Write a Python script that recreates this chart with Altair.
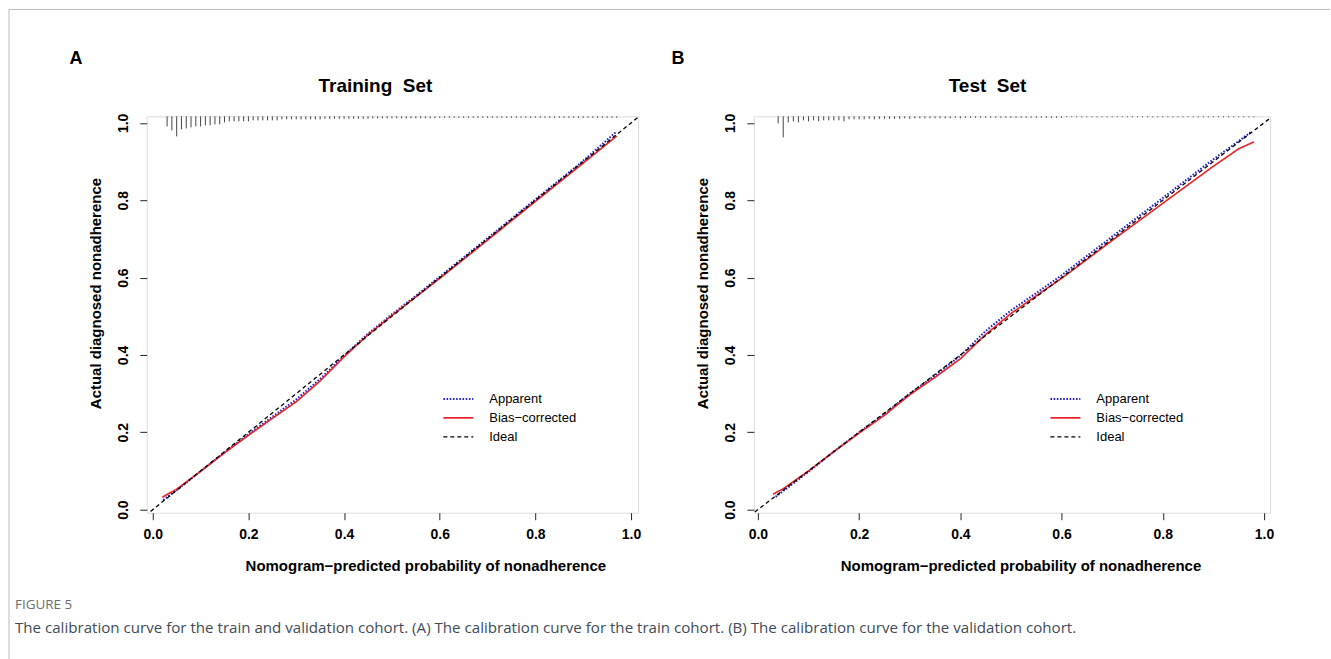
import altair as alt
import pandas as pd

# ---------------- data ----------------
series_names = ["Apparent", "Bias\u2212corrected", "Ideal"]
series_colors = ["#2222c8", "#e8262a", "#000000"]
series_dash = [[1.6, 1.6], [1, 0], [4, 3]]
series_width = [2.0, 1.3, 1.0]

# Panel A (Training Set)
A_app_x = [0.022, 0.05, 0.10, 0.15, 0.20, 0.25, 0.30, 0.35, 0.40, 0.45, 0.50, 0.55, 0.60, 0.70, 0.80, 0.90, 0.97]
A_app_y = [0.025, 0.050, 0.099, 0.148, 0.195, 0.240, 0.285, 0.338, 0.398, 0.455, 0.505, 0.553, 0.602, 0.702, 0.802, 0.902, 0.978]
A_bias_x = [0.02, 0.05, 0.10, 0.15, 0.20, 0.25, 0.30, 0.35, 0.40, 0.45, 0.50, 0.55, 0.60, 0.70, 0.80, 0.90, 0.97]
A_bias_y = [0.032, 0.053, 0.099, 0.147, 0.192, 0.236, 0.279, 0.333, 0.395, 0.452, 0.502, 0.550, 0.598, 0.697, 0.797, 0.896, 0.966]
A_rug_x = [0.03, 0.04, 0.05, 0.06, 0.07, 0.08, 0.09, 0.10, 0.11, 0.12, 0.13, 0.14, 0.15, 0.16, 0.17, 0.18,
           0.19, 0.20, 0.21, 0.22, 0.23, 0.24, 0.25, 0.26, 0.27, 0.28, 0.29, 0.30, 0.31, 0.32, 0.33, 0.34,
           0.35, 0.36, 0.37, 0.38, 0.39, 0.40, 0.41, 0.42, 0.43, 0.44, 0.45, 0.46, 0.47, 0.48, 0.49, 0.50,
           0.51, 0.52, 0.53, 0.54, 0.55, 0.56, 0.57, 0.58, 0.59, 0.60, 0.61, 0.62, 0.63, 0.64, 0.65, 0.66,
           0.67, 0.68, 0.69, 0.70, 0.71, 0.72, 0.73, 0.74, 0.75, 0.76, 0.77, 0.78, 0.79, 0.80, 0.81, 0.82,
           0.83, 0.84, 0.85, 0.86, 0.87, 0.88, 0.89, 0.90, 0.91, 0.92, 0.93, 0.94, 0.95, 0.96, 0.97]
A_rug_f = [10, 14, 20, 13, 12, 11, 10, 10, 9, 9, 8, 8, 6, 5, 5, 5,
           5, 5, 4, 4, 4, 4, 4, 4, 3, 3, 3, 3, 3, 3, 3, 3,
           3, 2.5, 2.5, 2.5, 2.5, 2.5, 2.5, 2.5, 2.5, 2.5, 2.5, 2, 2, 2, 2, 2,
           2, 2, 2, 2, 2, 2, 2, 2, 2, 1.5, 1.5, 1.5, 1.5, 1.5, 1.5, 1.5,
           1.5, 1.5, 1.5, 1.5, 1.5, 1.5, 1.5, 1.5, 1.5, 1.5, 1.5, 1.5, 1.5, 1.5, 1.5, 1.5,
           1.5, 1.5, 1.5, 1.5, 1.5, 1.5, 1.5, 1.5, 1.5, 1.5, 1.5, 1.5, 1.5, 1.5, 1.5]

# Panel B (Test Set)
B_app_x = [0.035, 0.05, 0.10, 0.15, 0.20, 0.25, 0.30, 0.35, 0.40, 0.45, 0.50, 0.55, 0.60, 0.70, 0.80, 0.90, 0.95, 0.975]
B_app_y = [0.033, 0.048, 0.098, 0.150, 0.200, 0.247, 0.300, 0.347, 0.398, 0.462, 0.515, 0.560, 0.606, 0.706, 0.806, 0.906, 0.953, 0.977]
B_bias_x = [0.03, 0.05, 0.10, 0.15, 0.20, 0.25, 0.30, 0.35, 0.40, 0.45, 0.50, 0.55, 0.60, 0.70, 0.80, 0.90, 0.95, 0.98]
B_bias_y = [0.040, 0.054, 0.100, 0.150, 0.198, 0.244, 0.297, 0.342, 0.390, 0.453, 0.507, 0.553, 0.598, 0.696, 0.792, 0.888, 0.933, 0.951]
B_rug_x = [0.04, 0.05, 0.06, 0.07, 0.08, 0.09, 0.10, 0.11, 0.12, 0.13, 0.14, 0.15, 0.16, 0.17, 0.18, 0.19,
           0.20, 0.21, 0.22, 0.23, 0.24, 0.25, 0.26, 0.27, 0.28, 0.29, 0.30, 0.31, 0.32, 0.33, 0.34, 0.35,
           0.36, 0.37, 0.38, 0.39, 0.40, 0.41, 0.42, 0.43, 0.44, 0.45, 0.46, 0.47, 0.48, 0.49, 0.50, 0.51,
           0.52, 0.53, 0.54, 0.55, 0.56, 0.57, 0.58, 0.59, 0.60, 0.61, 0.62, 0.63, 0.64, 0.65, 0.66, 0.67,
           0.68, 0.69, 0.70, 0.71, 0.72, 0.73, 0.74, 0.75, 0.76, 0.77, 0.78, 0.79, 0.80, 0.81, 0.82, 0.83,
           0.84, 0.85, 0.86, 0.87, 0.88, 0.89, 0.90, 0.91, 0.92, 0.93, 0.94, 0.95, 0.96, 0.97, 0.98]
B_rug_f = [7, 21, 6, 5, 6, 4, 5, 4, 5, 4, 4, 4, 4, 5, 3, 3,
           3, 3, 2.5, 3, 2.5, 2.5, 2.5, 2.5, 2.5, 2, 2.5, 2, 2, 2, 2, 2,
           2, 2, 2, 1.5, 2, 1.5, 1.5, 1.5, 1.5, 1.5, 1.5, 1.5, 1.5, 1.5, 1.5, 1.5,
           1.5, 1.5, 1.5, 1.5, 1.5, 1.5, 1.5, 1.5, 1.5, 1, 1, 1, 1, 1, 1, 1,
           1, 1, 1, 1, 1, 1, 1, 1, 1, 1, 1, 1, 1, 1, 1, 1,
           1, 1, 1, 1, 1, 1, 1, 1, 1, 1, 1, 1, 1, 1, 1]

ideal_x = [-0.05, 1.05]

tick_values = [0.0, 0.2, 0.4, 0.6, 0.8, 1.0]
y_domain = [-0.008, 1.017]
A_x_domain = [-0.0125, 1.0146]
B_x_domain = [-0.008, 1.012]
rug_scale = 0.0026  # y-units per unit of frequency

FONT = "Liberation Sans"
x_title = "Nomogram\u2212predicted probability of nonadherence"
y_title = "Actual diagnosed nonadherence"


def curves_df(app_x, app_y, bias_x, bias_y):
    rows = []
    for x, y in zip(app_x, app_y):
        rows.append({"x": x, "y": y, "series": series_names[0]})
    for x, y in zip(bias_x, bias_y):
        rows.append({"x": x, "y": y, "series": series_names[1]})
    for x in ideal_x:
        rows.append({"x": x, "y": x, "series": series_names[2]})
    return pd.DataFrame(rows)


def text_layer(txt, px, py, size, weight="bold", align="center", color="black", font=FONT, baseline="middle"):
    return alt.Chart(pd.DataFrame({"t": [txt]})).mark_text(
        fontSize=size, fontWeight=weight, align=align, baseline=baseline, color=color, font=font
    ).encode(text="t:N", x=alt.value(px), y=alt.value(py))


def make_legend():
    return alt.Legend(orient="none", legendX=296, legendY=275, title=None,
                      symbolType="stroke", symbolSize=900, symbolStrokeWidth=1.5,
                      labelFontSize=13, labelFont=FONT, labelOffset=15,
                      clipHeight=16, rowPadding=3, labelColor="black", padding=0)


def panel(app_x, app_y, bias_x, bias_y, rug_x, rug_f, x_domain, width, title_txt, title_dx,
          letter, letter_dx, xtitle_x, ytitle_y):
    height = 397
    xs = alt.Scale(domain=x_domain, nice=False, zero=False)
    ys = alt.Scale(domain=y_domain, nice=False, zero=False)
    x_axis = alt.Axis(values=tick_values, format=".1f", labelFontSize=14, labelFontWeight="bold",
                      labelColor="black", labelFlush=False, labelOverlap=False, tickSize=7,
                      tickColor="#222", domain=False, grid=False, labelPadding=8,
                      title=x_title, titleFontSize=15, titleFontWeight="bold", titleColor="black",
                      titleX=xtitle_x, titleY=53, titleBaseline="middle", titleAlign="center")
    y_axis = alt.Axis(values=tick_values, format=".1f", labelFontSize=14, labelFontWeight="bold",
                      labelColor="black", labelFlush=False, labelOverlap=False, labelAngle=270,
                      labelAlign="center", labelBaseline="bottom", tickSize=7, tickColor="#222",
                      domain=False, grid=False, labelPadding=9,
                      title=y_title, titleFontSize=15, titleFontWeight="bold", titleColor="black",
                      titleX=-51, titleY=ytitle_y, titleBaseline="middle", titleAlign="center",
                      titleAngle=270)

    df = curves_df(app_x, app_y, bias_x, bias_y)
    lines = alt.Chart(df).mark_line(clip=True).encode(
        x=alt.X("x:Q", scale=xs, axis=x_axis),
        y=alt.Y("y:Q", scale=ys, axis=y_axis),
        color=alt.Color("series:N", scale=alt.Scale(domain=series_names, range=series_colors),
                        legend=make_legend()),
        strokeDash=alt.StrokeDash("series:N", scale=alt.Scale(domain=series_names, range=series_dash),
                                  legend=make_legend()),
        strokeWidth=alt.StrokeWidth("series:N", scale=alt.Scale(domain=series_names, range=series_width),
                                    legend=None),
        detail="series:N",
    )

    rug_df = pd.DataFrame({"x": rug_x, "f": rug_f})
    rug_df["top"] = y_domain[1]
    rug_df["bot"] = y_domain[1] - rug_df["f"] * rug_scale
    rug = alt.Chart(rug_df).mark_rule(color="#444", strokeWidth=1).encode(
        x=alt.X("x:Q", scale=xs), y=alt.Y("top:Q", scale=ys), y2="bot:Q"
    )

    layers = [rug, lines,
              text_layer(title_txt, title_dx, -30, 19),
              text_layer(letter, letter_dx, -57, 18)]
    return alt.layer(*layers).properties(width=width, height=height)


A = panel(A_app_x, A_app_y, A_bias_x, A_bias_y, A_rug_x, A_rug_f, A_x_domain, 492,
          "Training\u00a0\u00a0Set", 229, "A", -71, 279, 177)
B = panel(B_app_x, B_app_y, B_bias_x, B_bias_y, B_rug_x, B_rug_f, B_x_domain, 517,
          "Test\u00a0\u00a0Set", 234, "B", -76, 267, 177)

# frame lines and caption (attached to panel A, positioned in pixels)
frame_top = alt.Chart(pd.DataFrame({"k": [0]})).mark_rule(color="#bbbbbb", strokeWidth=1).encode(
    x=alt.value(-138), x2=alt.value(1185), y=alt.value(-107))
frame_left = alt.Chart(pd.DataFrame({"k": [0]})).mark_rule(color="#bbbbbb", strokeWidth=1).encode(
    x=alt.value(-138), y=alt.value(-107), y2=alt.value(544))
cap1 = text_layer("FIGURE 5", -132, 489, 13.5, weight="normal", align="left", color="#6d6d6d", font="Open Sans")
cap2 = text_layer("The calibration curve for the train and validation cohort. (A) The calibration curve for the "
                  "train cohort. (B) The calibration curve for the validation cohort.",
                  -132, 512, 15.15, weight="normal", align="left", color="#3e4b57", font="Open Sans")
A = alt.layer(A, frame_top, frame_left, cap1, cap2)

chart = alt.hconcat(A, B, spacing=116, bounds="flush").resolve_scale(
    x="independent", y="independent", color="independent", strokeDash="independent",
    strokeWidth="independent"
).resolve_legend(color="independent", strokeDash="independent").properties(
    padding={"left": 8, "top": 8, "right": 0, "bottom": 0}, background="white"
).configure_view(stroke="#222", strokeWidth=1).configure(font=FONT)

chart.save("out.html", embed_options={"renderer": "svg", "actions": False})
